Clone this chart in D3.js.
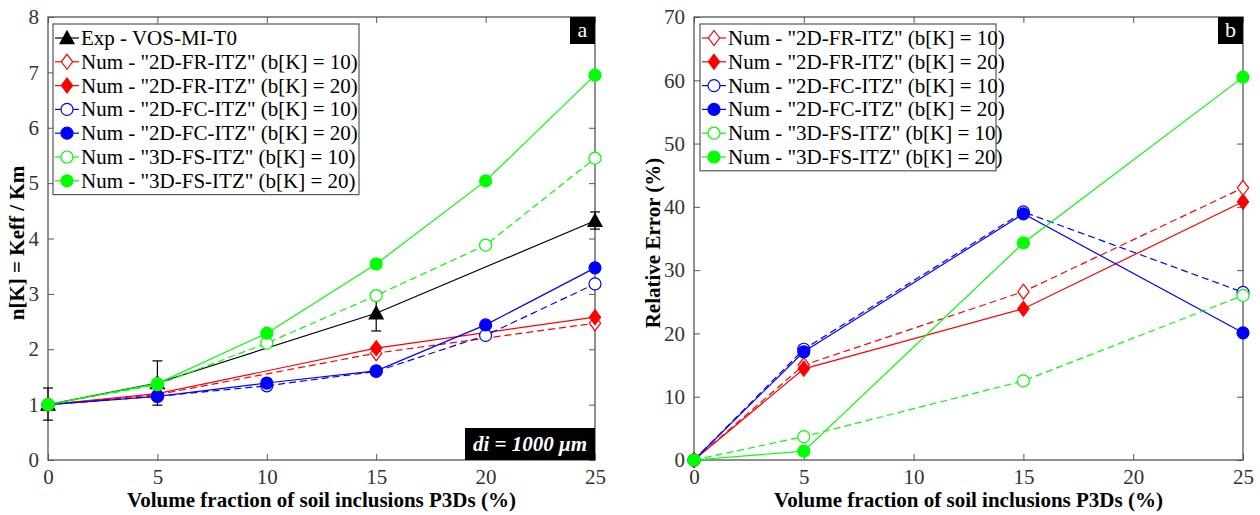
<!DOCTYPE html>
<html><head><meta charset="utf-8">
<script src="https://cdn.jsdelivr.net/npm/d3@7"></script>
</head><body style="margin:0"><svg id="c" width="1260" height="515" style="display:block"></svg>
<script>
// ---------- data ----------
const xTicks = [0, 5, 10, 15, 20, 25];
const xFull = [0, 5, 10, 15, 20, 25];
const xSparse = [0, 5, 15, 25];

// panel a : n[K] = Keff / Km
const expY  = [1.00, 1.39, 2.65, 4.32];
const expLo = [0.72, 0.99, 2.33, 4.17];
const expHi = [1.30, 1.79, 2.95, 4.48];
const fr10a = [1.00, 1.18, 1.93, 2.47];
const fr20a = [1.00, 1.20, 2.02, 2.58];
const fc10a = [1.00, 1.15, 1.34, 1.60, 2.25, 3.18];
const fc20a = [1.00, 1.15, 1.39, 1.61, 2.44, 3.47];
const fs10a = [1.00, 1.36, 2.11, 2.97, 3.88, 5.45];
const fs20a = [1.00, 1.38, 2.29, 3.54, 5.04, 6.95];
const yTicksA = [0, 1, 2, 3, 4, 5, 6, 7, 8];

// panel b : relative error (%)
const fr10b = [0, 15.0, 26.6, 43.0];
const fr20b = [0, 14.4, 23.9, 40.8];
const fc10b = [0, 17.5, 39.2, 26.5];
const fc20b = [0, 17.1, 38.9, 20.1];
const fs10b = [0, 3.7, 12.5, 26.0];
const fs20b = [0, 1.4, 34.3, 60.5];
const yTicksB = [0, 10, 20, 30, 40, 50, 60, 70];

const labels = {
  exp: "Exp - VOS-MI-T0",
  fr10: 'Num - "2D-FR-ITZ" (b[K] = 10)',
  fr20: 'Num - "2D-FR-ITZ" (b[K] = 20)',
  fc10: 'Num - "2D-FC-ITZ" (b[K] = 10)',
  fc20: 'Num - "2D-FC-ITZ" (b[K] = 20)',
  fs10: 'Num - "3D-FS-ITZ" (b[K] = 10)',
  fs20: 'Num - "3D-FS-ITZ" (b[K] = 20)'
};

const FONT = "Liberation Serif";
const svg = d3.select("#c").attr("font-family", FONT);
const AX = "#555";
const TXT = "#333";

function marker(g, type, color, filled, x, y) {
  const fill = filled ? color : "#fff";
  if (type === "circle") {
    g.append("circle").attr("cx", x).attr("cy", y).attr("r", 6)
      .attr("fill", fill).attr("stroke", color).attr("stroke-width", 1.2);
  } else if (type === "diamond") {
    const s = 7.5;
    g.append("path").attr("d", `M${x},${y-s}L${x+s*0.75},${y}L${x},${y+s}L${x-s*0.75},${y}Z`)
      .attr("fill", fill).attr("stroke", color).attr("stroke-width", 1.2);
  } else if (type === "triangle") {
    const s = 7;
    g.append("path").attr("d", `M${x},${y-s}L${x+s},${y+s*0.8}L${x-s},${y+s*0.8}Z`)
      .attr("fill", fill).attr("stroke", color).attr("stroke-width", 1.2);
  }
}

function txt(sel) { return sel.attr("font-family", FONT).style("font-family", `"${FONT}"`); }

function panel(cfg) {
  const x = d3.scaleLinear().domain([0, 25]).range([cfg.x0, cfg.x1]);
  const y = d3.scaleLinear().domain([0, cfg.ymax]).range([460, 17]);
  const g = svg.append("g").attr("font-family", FONT);

  const tl = 6;
  g.append("g").attr("transform", "translate(0,460)")
    .call(d3.axisBottom(x).tickValues(xTicks).tickSize(-tl).tickPadding(9).tickFormat(d3.format("d")))
    .call(a => { a.attr("font-family", FONT); a.select(".domain").remove(); a.selectAll("line").attr("stroke", AX);
      txt(a.selectAll("text")).attr("fill", TXT).attr("font-size", 21); });
  g.append("g").attr("transform", "translate(0,17)")
    .call(d3.axisTop(x).tickValues(xTicks).tickSize(-tl).tickFormat(""))
    .call(a => { a.select(".domain").remove(); a.selectAll("line").attr("stroke", AX); });
  g.append("g").attr("transform", `translate(${cfg.x0},0)`)
    .call(d3.axisLeft(y).tickValues(cfg.yTicks).tickSize(-tl).tickPadding(9).tickFormat(d3.format("d")))
    .call(a => { a.attr("font-family", FONT); a.select(".domain").remove(); a.selectAll("line").attr("stroke", AX);
      txt(a.selectAll("text")).attr("fill", TXT).attr("font-size", 21); });
  g.append("g").attr("transform", `translate(${cfg.x1},0)`)
    .call(d3.axisRight(y).tickValues(cfg.yTicks).tickSize(-tl).tickFormat(""))
    .call(a => { a.select(".domain").remove(); a.selectAll("line").attr("stroke", AX); });
  g.append("rect").attr("x", cfg.x0).attr("y", 17).attr("width", cfg.x1 - cfg.x0).attr("height", 443)
    .attr("fill", "none").attr("stroke", AX).attr("stroke-width", 1.3);

  const line = d3.line().x(d => x(d[0])).y(d => y(d[1]));
  cfg.series.forEach(s => {
    const pts = s.xs.map((v, i) => [v, s.ys[i]]);
    if (s.err) {
      s.xs.forEach((v, i) => {
        const cx = x(v);
        g.append("line").attr("x1", cx).attr("x2", cx).attr("y1", y(s.err[0][i])).attr("y2", y(s.err[1][i]))
          .attr("stroke", "#000").attr("stroke-width", 1.2);
        [s.err[0][i], s.err[1][i]].forEach(e => g.append("line").attr("x1", cx - 5).attr("x2", cx + 5)
          .attr("y1", y(e)).attr("y2", y(e)).attr("stroke", "#000").attr("stroke-width", 1.2));
      });
    }
    g.append("path").attr("d", line(pts)).attr("fill", "none").attr("stroke", s.color)
      .attr("stroke-width", 1.2).attr("stroke-dasharray", s.dash ? "7,4" : null);
    pts.forEach(p => marker(g, s.marker, s.color, s.filled, x(p[0]), y(p[1])));
  });

  const L = cfg.legend;
  g.append("rect").attr("x", L.x).attr("y", 24).attr("width", L.w).attr("height", cfg.series.length * 23.8 + 4)
    .attr("fill", "#fff").attr("stroke", AX).attr("stroke-width", 1.2);
  cfg.series.forEach((s, i) => {
    const cy = 38 + i * 23.8;
    g.append("line").attr("x1", L.x + 2).attr("x2", L.x + 26).attr("y1", cy).attr("y2", cy)
      .attr("stroke", s.color).attr("stroke-width", 1.2);
    marker(g, s.marker, s.color, s.filled, L.x + 14, cy);
    txt(g.append("text")).attr("x", L.x + 28).attr("y", cy + 7).text(s.label)
      .attr("font-size", 21).attr("fill", "#000");
  });

  g.append("rect").attr("x", cfg.x1 - 25).attr("y", 17).attr("width", 25).attr("height", 27).attr("fill", "#000");
  txt(g.append("text")).attr("x", cfg.x1 - 12.5).attr("y", 37).attr("text-anchor", "middle")
    .attr("fill", "#fff").attr("font-size", 22).text(cfg.letter);

  txt(g.append("text")).attr("x", (cfg.x0 + cfg.x1) / 2).attr("y", 507).attr("text-anchor", "middle")
    .attr("font-size", 21).attr("font-weight", "bold").attr("fill", "#000")
    .text("Volume fraction of soil inclusions P3Ds (%)");
  txt(g.append("text")).attr("transform", `translate(${cfg.ylabX},243) rotate(-90)`).attr("text-anchor", "middle")
    .attr("font-size", 21).attr("font-weight", "bold").attr("fill", "#000").text(cfg.ylabel);
  return { x, y, g };
}

const pa = panel({
  x0: 48, x1: 595, ymax: 8, yTicks: yTicksA, letter: "a", ylabel: "n[K] = Keff / Km", ylabX: 24,
  legend: { x: 53, w: 306 },
  series: [
    { label: labels.exp, xs: xSparse, ys: expY, err: [expLo, expHi], color: "#000", marker: "triangle", filled: true, dash: false },
    { label: labels.fr10, xs: xSparse, ys: fr10a, color: "#ff0000", marker: "diamond", filled: false, dash: true },
    { label: labels.fr20, xs: xSparse, ys: fr20a, color: "#ff0000", marker: "diamond", filled: true, dash: false },
    { label: labels.fc10, xs: xFull, ys: fc10a, color: "#0000ff", marker: "circle", filled: false, dash: true },
    { label: labels.fc20, xs: xFull, ys: fc20a, color: "#0000ff", marker: "circle", filled: true, dash: false },
    { label: labels.fs10, xs: xFull, ys: fs10a, color: "#00ff00", marker: "circle", filled: false, dash: true },
    { label: labels.fs20, xs: xFull, ys: fs20a, color: "#00ff00", marker: "circle", filled: true, dash: false }
  ]
});

pa.g.append("rect").attr("x", 465).attr("y", 428).attr("width", 130).attr("height", 32).attr("fill", "#000");
txt(pa.g.append("text")).attr("x", 530).attr("y", 451).attr("text-anchor", "middle").attr("fill", "#fff")
  .attr("font-size", 21).attr("font-style", "italic").attr("font-weight", "bold").text("di = 1000 μm");

panel({
  x0: 694, x1: 1243, ymax: 70, yTicks: yTicksB, letter: "b", ylabel: "Relative Error (%)", ylabX: 660,
  legend: { x: 700, w: 296 },
  series: [
    { label: labels.fr10, xs: xSparse, ys: fr10b, color: "#ff0000", marker: "diamond", filled: false, dash: true },
    { label: labels.fr20, xs: xSparse, ys: fr20b, color: "#ff0000", marker: "diamond", filled: true, dash: false },
    { label: labels.fc10, xs: xSparse, ys: fc10b, color: "#0000ff", marker: "circle", filled: false, dash: true },
    { label: labels.fc20, xs: xSparse, ys: fc20b, color: "#0000ff", marker: "circle", filled: true, dash: false },
    { label: labels.fs10, xs: xSparse, ys: fs10b, color: "#00ff00", marker: "circle", filled: false, dash: true },
    { label: labels.fs20, xs: xSparse, ys: fs20b, color: "#00ff00", marker: "circle", filled: true, dash: false }
  ]
});
</script></body></html>
